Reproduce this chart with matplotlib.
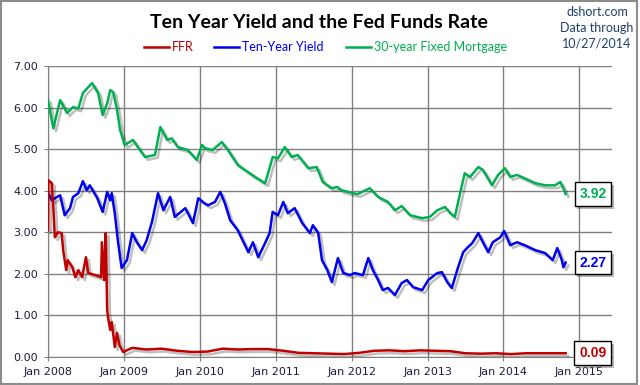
"""
Ten Year Yield vs Fed Funds Rate vs 30-year mortgage, weekly-ish, 2008-2014.
"""

import numpy as np
import matplotlib
matplotlib.use("Agg")
import matplotlib.pyplot as plt
import matplotlib.patheffects as pe
from matplotlib.lines import Line2D
from matplotlib.patches import Rectangle

# data (decimal years, percent)
mort_t = [2008.00, 2008.07, 2008.16, 2008.25, 2008.33, 2008.40, 2008.46, 2008.58,
          2008.66, 2008.72, 2008.78, 2008.82, 2008.86, 2008.91, 2008.95, 2009.01,
          2009.12, 2009.21, 2009.28, 2009.41, 2009.48, 2009.57, 2009.63, 2009.71,
          2009.84, 2009.96, 2010.03, 2010.07, 2010.17, 2010.29, 2010.37, 2010.50,
          2010.73, 2010.86, 2010.90, 2010.96, 2011.03, 2011.12, 2011.21, 2011.29,
          2011.43, 2011.54, 2011.62, 2011.74, 2011.81, 2011.87, 2012.02, 2012.08,
          2012.24, 2012.35, 2012.48, 2012.57, 2012.66, 2012.77, 2012.93, 2013.03,
          2013.13, 2013.23, 2013.30, 2013.36, 2013.43, 2013.49, 2013.56, 2013.67,
          2013.73, 2013.85, 2013.93, 2014.02, 2014.09, 2014.18, 2014.28, 2014.42,
          2014.55, 2014.68, 2014.75, 2014.79, 2014.82]
mort_v = [6.18, 5.50, 6.18, 5.87, 6.01, 5.98, 6.35, 6.59,
          6.35, 5.82, 6.10, 6.42, 6.37, 5.94, 5.46, 5.10,
          5.22, 4.98, 4.81, 4.86, 5.53, 5.22, 5.26, 5.05,
          4.98, 4.74, 5.10, 5.02, 4.98, 5.17, 4.98, 4.62,
          4.33, 4.18, 4.42, 4.81, 4.78, 5.05, 4.81, 4.86,
          4.54, 4.57, 4.21, 4.06, 4.09, 4.01, 3.94, 3.92,
          4.06, 3.85, 3.73, 3.53, 3.63, 3.41, 3.34, 3.37,
          3.53, 3.61, 3.46, 3.37, 3.94, 4.42, 4.33, 4.57,
          4.50, 4.13, 4.38, 4.54, 4.33, 4.38, 4.30, 4.18,
          4.13, 4.13, 4.21, 4.06, 3.92]

ten_t = [2008.00, 2008.05, 2008.12, 2008.16, 2008.22, 2008.29, 2008.33, 2008.40,
         2008.46, 2008.51, 2008.55, 2008.65, 2008.72, 2008.78, 2008.82, 2008.84,
         2008.88, 2008.92, 2008.97, 2009.04, 2009.11, 2009.17, 2009.24, 2009.30,
         2009.37, 2009.45, 2009.52, 2009.61, 2009.67, 2009.81, 2009.91, 2009.98,
         2010.06, 2010.11, 2010.20, 2010.27, 2010.33, 2010.40, 2010.50, 2010.64,
         2010.70, 2010.77, 2010.86, 2010.92, 2010.96, 2011.03, 2011.10, 2011.16,
         2011.25, 2011.35, 2011.45, 2011.49, 2011.56, 2011.61, 2011.68, 2011.74,
         2011.82, 2011.89, 2011.98, 2012.04, 2012.15, 2012.22, 2012.28, 2012.35,
         2012.41, 2012.48, 2012.57, 2012.66, 2012.73, 2012.81, 2012.93, 2013.01,
         2013.13, 2013.19, 2013.26, 2013.32, 2013.40, 2013.47, 2013.52, 2013.59,
         2013.67, 2013.73, 2013.80, 2013.86, 2013.96, 2014.01, 2014.09, 2014.18,
         2014.28, 2014.42, 2014.55, 2014.65, 2014.71, 2014.77, 2014.79, 2014.82]
ten_v = [3.95, 3.77, 3.85, 3.89, 3.41, 3.58, 3.85, 3.94,
         4.23, 4.01, 4.13, 3.82, 3.49, 3.97, 3.77, 3.94,
         3.46, 2.81, 2.14, 2.33, 2.98, 2.76, 2.57, 2.81,
         3.25, 3.94, 3.53, 3.85, 3.37, 3.58, 3.22, 3.82,
         3.70, 3.65, 3.73, 3.97, 3.70, 3.29, 3.05, 2.52,
         2.76, 2.40, 2.74, 2.98, 3.49, 3.41, 3.73, 3.46,
         3.58, 3.22, 2.98, 3.17, 2.98, 2.33, 2.09, 1.80,
         2.38, 2.02, 1.97, 2.02, 1.97, 2.38, 2.09, 1.85,
         1.61, 1.66, 1.49, 1.78, 1.85, 1.68, 1.61, 1.85,
         2.02, 2.04, 1.80, 1.66, 2.14, 2.52, 2.62, 2.74,
         2.98, 2.76, 2.52, 2.76, 2.88, 3.03, 2.69, 2.76,
         2.69, 2.57, 2.50, 2.33, 2.62, 2.33, 2.16, 2.27]

ffr_t = [2008.00, 2008.005, 2008.05, 2008.07, 2008.09, 2008.13, 2008.18, 2008.20,
         2008.24, 2008.26, 2008.32, 2008.36, 2008.40, 2008.45, 2008.50, 2008.53,
         2008.62, 2008.70, 2008.71, 2008.74, 2008.76, 2008.78, 2008.79, 2008.82,
         2008.84, 2008.88, 2008.91, 2008.94, 2008.99, 2009.11, 2009.30, 2009.50,
         2009.70, 2009.90, 2010.10, 2010.30, 2010.50, 2010.70, 2010.90, 2011.10,
         2011.30, 2011.50, 2011.70, 2011.90, 2012.10, 2012.30, 2012.50, 2012.70,
         2012.90, 2013.10, 2013.30, 2013.50, 2013.70, 2013.90, 2014.10, 2014.30,
         2014.50, 2014.70, 2014.82]
ffr_v = [3.05, 4.25, 4.18, 3.60, 2.88, 3.00, 2.98, 2.57,
         2.09, 2.33, 2.16, 1.92, 2.09, 1.92, 2.40, 2.02,
         1.97, 1.92, 2.76, 1.85, 2.98, 1.13, 0.96, 0.65,
         0.84, 0.24, 0.58, 0.29, 0.12, 0.22, 0.18, 0.20,
         0.15, 0.12, 0.13, 0.20, 0.18, 0.19, 0.19, 0.15,
         0.10, 0.09, 0.08, 0.07, 0.10, 0.15, 0.16, 0.14,
         0.16, 0.15, 0.14, 0.09, 0.08, 0.09, 0.07, 0.09,
         0.09, 0.09, 0.09]

years = [2008, 2009, 2010, 2011, 2012, 2013, 2014, 2015]
year_labels = ["Jan " + str(y) for y in years]
y_ticks = [0, 1, 2, 3, 4, 5, 6, 7]

RED = "#C00000"
BLUE = "#0000F0"
GREEN = "#00B050"
TXT = "#1c1c3a"

fig = plt.figure(figsize=(6.4, 3.85), dpi=100)
ax = fig.add_axes([48 / 640, 28 / 385, (612 - 48) / 640, (357 - 66) / 385])

shadow = [pe.SimpleLineShadow(offset=(2, -2), shadow_color="k", alpha=0.25),
          pe.Normal()]

ax.plot(mort_t, mort_v, color=GREEN, lw=1.8, path_effects=shadow, zorder=3)
ax.plot(ten_t, ten_v, color=BLUE, lw=1.8, path_effects=shadow, zorder=3)
ax.plot(ffr_t, ffr_v, color=RED, lw=1.8, path_effects=shadow, zorder=3)

ax.set_xlim(2008, 2008 + (612 - 48) / 75.9)
ax.set_ylim(0, 7)
ax.set_xticks(years)
ax.set_xticklabels(year_labels)
ax.set_yticks(y_ticks)
ax.set_yticklabels(["%.2f" % v for v in y_ticks])
ax.grid(True, color="#808080", lw=1)
ax.set_axisbelow(True)
for s in ["top", "right"]:
    ax.spines[s].set_visible(False)
for s in ["left", "bottom"]:
    ax.spines[s].set_color("#808080")
ax.tick_params(colors="#808080", length=3, labelcolor=TXT, labelsize=8, pad=4)

# end-of-series value boxes
for val, col in [(mort_v[-1], GREEN), (ten_v[-1], BLUE), (ffr_v[-1], RED)]:
    t = ax.text(2015.18, val, "%.2f" % val, color=col, fontsize=10,
                fontweight="bold", family="Liberation Sans",
                ha="center", va="center", zorder=5,
                bbox=dict(boxstyle="square,pad=0.35", fc="white", ec="black", lw=1))
    t.get_bbox_patch().set_path_effects([pe.withSimplePatchShadow(offset=(2, -2), alpha=0.4)])

# title, legend, source
fig.text(319 / 640, 1 - 23 / 385, "Ten Year Yield and the Fed Funds Rate",
         ha="center", va="center", fontsize=14, fontweight="bold", family="Lato")

legend = [("FFR", RED, 144), ("Ten-Year Yield", BLUE, 214), ("30-year Fixed Mortgage", GREEN, 346)]
ly = 1 - 47 / 385
for name, col, x0 in legend:
    fig.add_artist(Line2D([x0 / 640, (x0 + 25) / 640], [ly, ly], color=col, lw=1.8))
    fig.text((x0 + 28) / 640, ly, name, color=col, fontsize=9, family="Lato",
             ha="left", va="center")

for i, s in enumerate(["dshort.com", "Data through", "10/27/2014"]):
    fig.text(597 / 640, 1 - (12 + 15.5 * i) / 385, s, color="#1F3F6E",
             fontsize=9, family="Lato", ha="center", va="center")

fig.add_artist(Rectangle((0.001, 0.002), 0.995, 0.995, transform=fig.transFigure,
                         fill=False, ec="#8c8c8c", lw=1.5))

fig.savefig("out.png", dpi=100)
